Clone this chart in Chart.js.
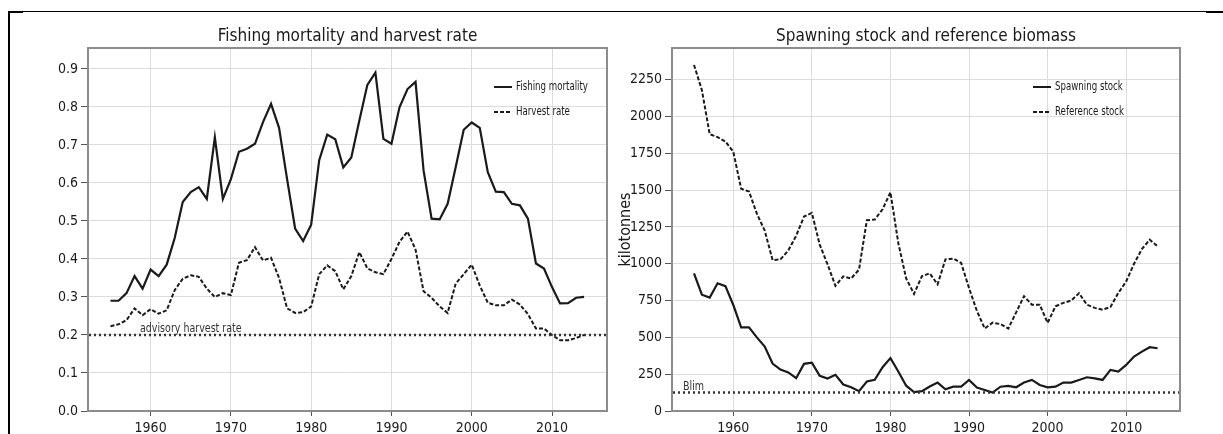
<!DOCTYPE html>
<html>
<head>
<meta charset="utf-8">
<script src="https://cdn.jsdelivr.net/npm/chart.js@4.4.1/dist/chart.umd.min.js"></script>
<style>
    body { margin: 0; background: #fff; }
    #page { position: relative; width: 1223px; height: 434px; overflow: hidden; background: #fff; }
    .panel { position: absolute; top: 0; height: 434px; }
    .rule { position: absolute; background: #000; }
</style>
</head>
<body>
<div id="page">
    <div class="panel" style="left:0;width:612px"><canvas id="leftChart" width="612" height="434"></canvas></div>
    <div class="panel" style="left:612px;width:611px"><canvas id="rightChart" width="611" height="434"></canvas></div>
    <div class="rule" style="left:8px;top:11px;width:1215px;height:1px"></div>
    <div class="rule" style="left:8px;top:11px;width:15px;height:2px"></div>
    <div class="rule" style="left:1206px;top:11px;width:17px;height:2px"></div>
    <div class="rule" style="left:8px;top:11px;width:2px;height:423px"></div>
</div>

<script>
// Data
const years = [
    1955, 1956, 1957, 1958, 1959, 1960, 1961, 1962, 1963, 1964,
    1965, 1966, 1967, 1968, 1969, 1970, 1971, 1972, 1973, 1974,
    1975, 1976, 1977, 1978, 1979, 1980, 1981, 1982, 1983, 1984,
    1985, 1986, 1987, 1988, 1989, 1990, 1991, 1992, 1993, 1994,
    1995, 1996, 1997, 1998, 1999, 2000, 2001, 2002, 2003, 2004,
    2005, 2006, 2007, 2008, 2009, 2010, 2011, 2012, 2013, 2014
];

const fishingMortality = [
    0.29, 0.29, 0.31, 0.355, 0.322, 0.372, 0.355, 0.385, 0.455, 0.55,
    0.576, 0.589, 0.558, 0.72, 0.558, 0.61, 0.682, 0.69, 0.703, 0.76,
    0.808, 0.745, 0.61, 0.48, 0.447, 0.49, 0.66, 0.727, 0.715, 0.641,
    0.667, 0.764, 0.858, 0.89, 0.716, 0.703, 0.799, 0.847, 0.866, 0.633,
    0.506, 0.504, 0.545, 0.641, 0.74, 0.759, 0.745, 0.628, 0.577, 0.576,
    0.545, 0.541, 0.506, 0.388, 0.375, 0.326, 0.283, 0.284, 0.298, 0.3
];

const harvestRate = [
    0.223, 0.228, 0.239, 0.27, 0.252, 0.268, 0.256, 0.265, 0.318, 0.348,
    0.357, 0.353, 0.322, 0.3, 0.31, 0.305, 0.39, 0.397, 0.431, 0.396,
    0.403, 0.35, 0.27, 0.258, 0.26, 0.275, 0.36, 0.383, 0.368, 0.32,
    0.355, 0.418, 0.375, 0.365, 0.36, 0.40, 0.445, 0.472, 0.425, 0.315,
    0.298, 0.275, 0.258, 0.335, 0.36, 0.385, 0.33, 0.285, 0.278, 0.278,
    0.293, 0.28, 0.255, 0.217, 0.217, 0.2, 0.186, 0.186, 0.192, 0.2
];

const spawningStock = [
    935, 790, 770, 867, 848, 720, 568, 568, 500, 438,
    322, 281, 262, 223, 320, 328, 239, 220, 246, 180,
    161, 135, 200, 212, 297, 359, 268, 172, 129, 135,
    166, 193, 147, 165, 165, 211, 159, 143, 125, 165,
    170, 161, 193, 211, 177, 161, 165, 193, 193, 211,
    229, 222, 211, 279, 268, 313, 370, 403, 433, 426
];

const referenceStock = [
    2350, 2180, 1880, 1860, 1830, 1760, 1510, 1490, 1340, 1225,
    1025, 1030, 1090, 1190, 1320, 1345, 1130, 995, 850, 914,
    900, 960, 1295, 1300, 1370, 1485, 1140, 900, 795, 915,
    935, 860, 1030, 1035, 1005, 835, 680, 560, 600, 590,
    560, 670, 780, 722, 722, 598, 711, 734, 750, 800,
    722, 700, 688, 706, 801, 880, 1000, 1100, 1163, 1118
];

const yearTicks = [1960, 1970, 1980, 1990, 2000, 2010];
const rateTicks = [0, 0.1, 0.2, 0.3, 0.4, 0.5, 0.6, 0.7, 0.8, 0.9];
const biomassTicks = [0, 250, 500, 750, 1000, 1250, 1500, 1750, 2000, 2250];

const advisoryHarvestRate = 0.2;
const blim = 125;

// Styles
const FONT = "'Liberation Sans Narrow', 'DejaVu Sans Condensed', 'Liberation Sans', sans-serif";
const GRID = '#dcdcdc';
const BOX = '#8c8c8c';
const INK = '#1a1a1a';

function toPoints(values) {
    return values.map((v, i) => ({ x: years[i], y: v }));
}

// small labels are squeezed a little horizontally
function fillNarrow(ctx, text, x, y, squeeze) {
    ctx.save();
    ctx.translate(x, y);
    ctx.scale(squeeze, 1);
    ctx.fillText(text, 0, 0);
    ctx.restore();
}

// Box, reference level, legend and titles drawn on top of the scales
const panelDecor = {
    id: 'panelDecor',
    afterDatasetsDraw(chart, args, opts) {
        const ctx = chart.ctx;
        const area = chart.chartArea;
        const yPos = chart.scales.y.getPixelForValue(opts.refValue);

        ctx.save();
        ctx.strokeStyle = '#333';
        ctx.lineWidth = 2.5;
        ctx.setLineDash([2, 3]);
        ctx.beginPath();
        ctx.moveTo(area.left + 1, yPos);
        ctx.lineTo(area.right - 1, yPos);
        ctx.stroke();
        ctx.setLineDash([]);

        ctx.fillStyle = '#333';
        ctx.font = `12px ${FONT}`;
        ctx.textAlign = 'left';
        ctx.textBaseline = 'alphabetic';
        fillNarrow(ctx, opts.refLabel, opts.refLabelX, yPos - 3, 0.88);
        ctx.restore();
    },
    afterDraw(chart, args, opts) {
        const ctx = chart.ctx;
        const area = chart.chartArea;

        ctx.save();
        // plot box
        ctx.strokeStyle = BOX;
        ctx.lineWidth = 2;
        ctx.strokeRect(area.left, area.top, area.right - area.left, area.bottom - area.top);

        // title
        ctx.fillStyle = INK;
        ctx.font = `17px ${FONT}`;
        ctx.textAlign = 'center';
        ctx.textBaseline = 'alphabetic';
        ctx.fillText(opts.title, (area.left + area.right) / 2, 41);

        // axis title
        if (opts.yTitle) {
            ctx.save();
            ctx.translate(opts.yTitleX, (area.top + area.bottom) / 2);
            ctx.rotate(-Math.PI / 2);
            ctx.font = `16px ${FONT}`;
            ctx.textBaseline = 'middle';
            ctx.fillText(opts.yTitle, 0, 0);
            ctx.restore();
        }

        // legend
        ctx.font = `12px ${FONT}`;
        ctx.textAlign = 'left';
        ctx.textBaseline = 'middle';
        chart.data.datasets.forEach((ds, i) => {
            const ly = opts.legendY + i * 25;
            ctx.strokeStyle = INK;
            ctx.lineWidth = 2;
            ctx.setLineDash(ds.borderDash || []);
            ctx.beginPath();
            ctx.moveTo(opts.legendX, ly);
            ctx.lineTo(opts.legendX + 18, ly);
            ctx.stroke();
            ctx.setLineDash([]);
            ctx.fillStyle = INK;
            fillNarrow(ctx, ds.label, opts.legendX + 22, ly, 0.8);
        });
        ctx.restore();
    }
};

function lineDatasets(solidLabel, solidValues, dashedLabel, dashedValues) {
    return [
        {
            label: solidLabel,
            data: toPoints(solidValues),
            borderColor: INK,
            borderWidth: 2.2,
            pointRadius: 0,
            tension: 0,
        },
        {
            label: dashedLabel,
            data: toPoints(dashedValues),
            borderColor: INK,
            borderWidth: 2,
            borderDash: [4, 2],
            pointRadius: 0,
            tension: 0,
        },
    ];
}

function panelOptions(cfg) {
    return {
        responsive: false,
        animation: false,
        devicePixelRatio: 1,
        layout: { padding: { top: 48, right: cfg.padRight, left: 0, bottom: 0 } },
        plugins: {
            legend: { display: false },
            tooltip: { enabled: false },
            panelDecor: cfg.decor,
        },
        scales: {
            x: {
                type: 'linear',
                min: 1952.2,
                max: 2016.85,
                afterBuildTicks: scale => { scale.ticks = yearTicks.map(v => ({ value: v })); },
                afterFit: scale => { scale.height = 23; },
                ticks: {
                    color: INK,
                    font: { size: 14, family: FONT },
                    padding: 4,
                    maxRotation: 0,
                    autoSkip: false,
                    callback: v => String(v),
                },
                grid: { color: GRID, lineWidth: 1, tickColor: '#555', tickLength: 5 },
                border: { display: false },
            },
            y: {
                type: 'linear',
                min: 0,
                max: cfg.yMax,
                afterBuildTicks: scale => { scale.ticks = cfg.yTicks.map(v => ({ value: v })); },
                afterFit: scale => { scale.width = cfg.yWidth; },
                ticks: {
                    color: INK,
                    font: { size: 14, family: FONT },
                    padding: 3,
                    autoSkip: false,
                    callback: cfg.tickFormat,
                },
                grid: { color: GRID, lineWidth: 1, tickColor: '#555', tickLength: 7 },
                border: { display: false },
            },
        },
    };
}

Chart.register(panelDecor);

new Chart(document.getElementById('leftChart'), {
    type: 'line',
    data: { datasets: lineDatasets('Fishing mortality', fishingMortality, 'Harvest rate', harvestRate) },
    options: panelOptions({
        padRight: 5,
        yWidth: 88,
        yMax: 0.955,
        yTicks: rateTicks,
        tickFormat: v => v.toFixed(1),
        decor: {
            title: 'Fishing mortality and harvest rate',
            refValue: advisoryHarvestRate,
            refLabel: 'advisory harvest rate',
            refLabelX: 140,
            legendX: 494,
            legendY: 87,
        },
    }),
});

new Chart(document.getElementById('rightChart'), {
    type: 'line',
    data: { datasets: lineDatasets('Spawning stock', spawningStock, 'Reference stock', referenceStock) },
    options: panelOptions({
        padRight: 43,
        yWidth: 60,
        yMax: 2465,
        yTicks: biomassTicks,
        tickFormat: v => String(v),
        decor: {
            title: 'Spawning stock and reference biomass',
            refValue: blim,
            refLabel: 'Blim',
            refLabelX: 71,
            legendX: 421,
            legendY: 87,
            yTitle: 'kilotonnes',
            yTitleX: 14,
        },
    }),
});
</script>
</body>
</html>
